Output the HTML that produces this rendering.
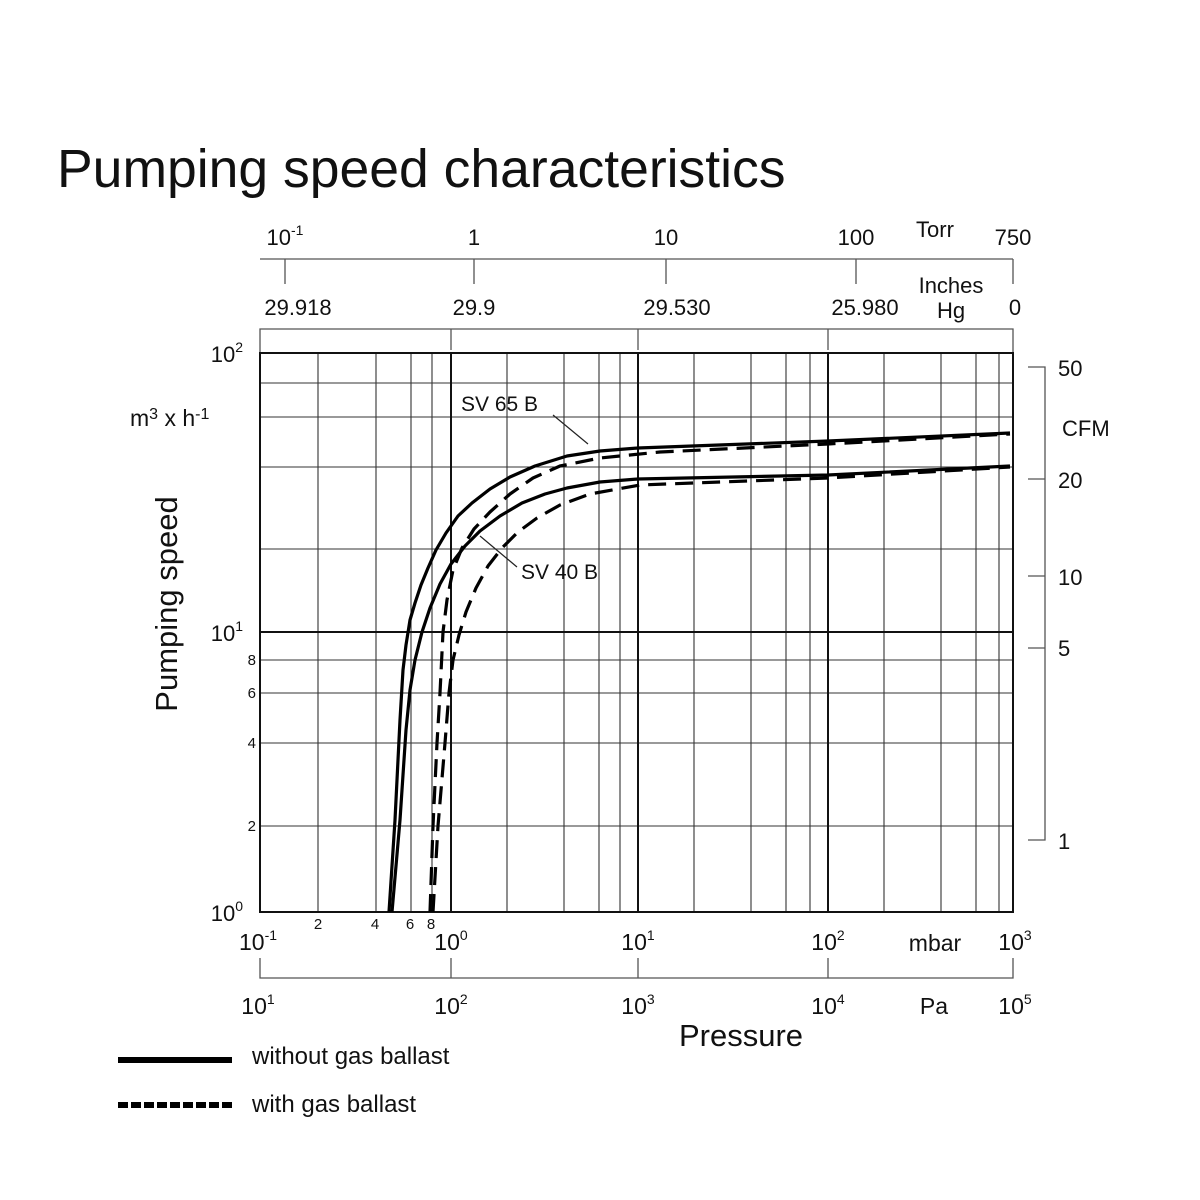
<!DOCTYPE html>
<html><head><meta charset="utf-8"><style>
html,body{margin:0;padding:0;background:#fff}
svg{display:block;font-family:"Liberation Sans",Arial,sans-serif}
</style></head><body>
<svg width="1200" height="1200" viewBox="0 0 1200 1200" xmlns="http://www.w3.org/2000/svg">
<rect width="1200" height="1200" fill="#fff"/>
<text x="57" y="187" font-size="53.5" fill="#111">Pumping speed characteristics</text>

<g stroke="#555" stroke-width="1.3" fill="none">
<path d="M260 259H1013M285 259V284M474 259V284M666 259V284M856 259V284M1013 259V284"/>
<path d="M260 352V329H1013V352M451 329V350M638 329V350M828 329V350"/>
<path d="M260 958V978H1013V958M451 978V958M638 978V958M828 978V958"/>
<path d="M1028 367H1045V840H1028M1028 479H1045M1028 576H1045M1028 648H1045"/>
</g>
<g font-size="22" fill="#111" text-anchor="middle">
<text x="285" y="245">10<tspan font-size="14" dy="-10">-1</tspan></text>
<text x="474" y="245">1</text>
<text x="666" y="245">10</text>
<text x="856" y="245">100</text>
<text x="935" y="237">Torr</text>
<text x="1013" y="245">750</text>
<text x="298" y="315">29.918</text>
<text x="474" y="315">29.9</text>
<text x="677" y="315">29.530</text>
<text x="865" y="315">25.980</text>
<text x="951" y="293">Inches</text>
<text x="951" y="318">Hg</text>
<text x="1015" y="315">0</text>
</g>
<g font-size="22" fill="#111">
<text x="1058" y="376">50</text>
<text x="1062" y="436">CFM</text>
<text x="1058" y="488">20</text>
<text x="1058" y="585">10</text>
<text x="1058" y="656">5</text>
<text x="1058" y="849">1</text>
</g>

<g stroke="#333" stroke-width="1.1" fill="none">
<path d="M318 353V912M376 353V912M411 353V912M432 353V912M507 353V912M564 353V912M599 353V912M620 353V912M694 353V912M751 353V912M786 353V912M810 353V912M884 353V912M941 353V912M976 353V912M999 353V912"/>
<path d="M260 383H1013M260 417H1013M260 467H1013M260 549H1013M260 660H1013M260 693H1013M260 743H1013M260 826H1013"/>
</g>
<g stroke="#111" stroke-width="2" fill="none">
<path d="M451 353V912M638 353V912M828 353V912M260 632H1013"/>
<rect x="260" y="353" width="753" height="559"/>
</g>

<g font-size="22" fill="#111" text-anchor="end">
<text x="243" y="362">10<tspan font-size="14" dy="-10">2</tspan></text>
<text x="243" y="641">10<tspan font-size="14" dy="-10">1</tspan></text>
<text x="243" y="921">10<tspan font-size="14" dy="-10">0</tspan></text>
</g>
<g font-size="15" fill="#111" text-anchor="end">
<text x="256" y="665">8</text><text x="256" y="698">6</text><text x="256" y="748">4</text><text x="256" y="831">2</text>
</g>
<g font-size="15" fill="#111" text-anchor="middle">
<text x="318" y="929">2</text><text x="375" y="929">4</text><text x="410" y="929">6</text><text x="431" y="929">8</text>
</g>
<g font-size="23" fill="#111" text-anchor="middle">
<text x="258" y="950">10<tspan font-size="14" dy="-10">-1</tspan></text>
<text x="451" y="950">10<tspan font-size="14" dy="-10">0</tspan></text>
<text x="638" y="950">10<tspan font-size="14" dy="-10">1</tspan></text>
<text x="828" y="950">10<tspan font-size="14" dy="-10">2</tspan></text>
<text x="1015" y="950">10<tspan font-size="14" dy="-10">3</tspan></text>
<text x="935" y="951">mbar</text>
<text x="258" y="1014">10<tspan font-size="14" dy="-10">1</tspan></text>
<text x="451" y="1014">10<tspan font-size="14" dy="-10">2</tspan></text>
<text x="638" y="1014">10<tspan font-size="14" dy="-10">3</tspan></text>
<text x="828" y="1014">10<tspan font-size="14" dy="-10">4</tspan></text>
<text x="1015" y="1014">10<tspan font-size="14" dy="-10">5</tspan></text>
<text x="934" y="1014">Pa</text>
<text x="741" y="1046" font-size="31">Pressure</text>
</g>
<text x="130" y="426" font-size="23" fill="#111">m<tspan font-size="16" dy="-7">3</tspan><tspan dy="7"> x h</tspan><tspan font-size="16" dy="-7">-1</tspan></text>
<text transform="translate(177,604) rotate(-90)" font-size="31" fill="#111" text-anchor="middle">Pumping speed</text>

<g fill="none" stroke="#000" stroke-width="3.2" stroke-linejoin="round">
<path d="M389 912 L395 820 L400 720 L403 670 L406 645 L410 620 L415 603 L421 585 L428 568 L436 550 L446 533 L458 516 L472 503 L490 489 L510 477 L535 466 L567 456 L600 451 L638 448 L828 441 L1010 433"/>
<path d="M392 912 L400 820 L406 730 L410 690 L415 660 L422 632 L430 608 L440 584 L451 564 L465 546 L480 531 L500 516 L522 503 L545 494 L567 488 L600 482 L638 479 L828 475 L1010 466"/>
<path stroke-dasharray="18 9" d="M430 912 L433 826 L437 743 L440 693 L443 632 L447 600 L453 570 L462 548 L474 529 L490 512 L510 494 L533 478 L560 466 L600 458 L660 452 L828 444 L1010 434"/>
<path stroke-dasharray="18 9" d="M433 912 L438 826 L445 743 L449 693 L453 660 L459 635 L466 612 L476 588 L488 566 L502 548 L518 532 L537 518 L560 505 L590 494 L640 485 L828 478 L1010 467"/>
</g>
<g stroke="#222" stroke-width="1.2">
<line x1="553" y1="415" x2="588" y2="444"/>
<line x1="480" y1="536" x2="517" y2="567"/>
</g>
<g font-size="21" fill="#111">
<text x="461" y="411">SV 65 B</text>
<text x="521" y="579">SV 40 B</text>
</g>

<line x1="118" y1="1060" x2="232" y2="1060" stroke="#000" stroke-width="6"/>
<line x1="118" y1="1105" x2="234" y2="1105" stroke="#000" stroke-width="6" stroke-dasharray="10 3"/>
<g font-size="24" fill="#111">
<text x="252" y="1064">without gas ballast</text>
<text x="252" y="1112">with gas ballast</text>
</g>
</svg>
</body></html>
